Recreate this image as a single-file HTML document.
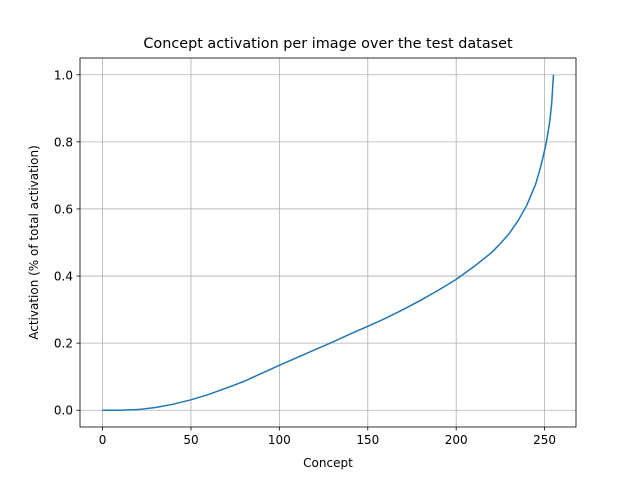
<!DOCTYPE html>
<html><head><meta charset="utf-8"><style>body{margin:0;background:#fff}svg{display:block;font-family:"DejaVu Sans","Liberation Sans",sans-serif}</style></head>
<body>
<svg width="640" height="480">
<rect width="640" height="480" fill="#fff"/>
<g id="grid"></g>
<g id="axes"></g>
<path id="line" fill="none" stroke="#1f77b4" stroke-width="1.5" stroke-linejoin="round"/>
<rect x="80" y="58" width="496" height="369" fill="none" stroke="#000" stroke-width="0.8"/>
<text x="328" y="48" text-anchor="middle" font-size="14.4">Concept activation per image over the test dataset</text>
<text x="328" y="467" text-anchor="middle" font-size="12">Concept</text>
<text transform="translate(38,242.5) rotate(-90)" text-anchor="middle" font-size="12">Activation (% of total activation)</text>
</svg>
<script>
const xs=[0,10,20,30,40,50,60,70,80,90,100,110,120,130,140,150,160,170,180,190,200,210,220,225,230,235,240,245,248,250,251,252,253,254,255];
const ys=[0,0,0.002,0.008,0.018,0.031,0.047,0.066,0.086,0.11,0.134,0.157,0.18,0.203,0.227,0.25,0.274,0.3,0.328,0.358,0.39,0.428,0.47,0.497,0.527,0.565,0.612,0.675,0.73,0.775,0.8,0.83,0.865,0.915,1.0];
const xTicks=[0,50,100,150,200,250];
const yTicks=[0.0,0.2,0.4,0.6,0.8,1.0];
const L=80,R=576,T=58,B=427;
const X=v=>L+(v+12.75)/280.5*(R-L);
const Y=v=>B-(v+0.05)/1.1*(B-T);
const ns="http://www.w3.org/2000/svg";
const grid=document.getElementById('grid'),axes=document.getElementById('axes');
function mk(tag,attrs,parent){const e=document.createElementNS(ns,tag);for(const k in attrs)e.setAttribute(k,attrs[k]);parent.appendChild(e);return e;}
xTicks.forEach(t=>{const x=X(t);
const g=mk('line',{x1:x,x2:x,y1:T,y2:B,stroke:'#b0b0b0','stroke-width':0.8},grid);


mk('line',{x1:x,x2:x,y1:B,y2:B+3.5,stroke:'#000','stroke-width':0.8},axes);
const tx=mk('text',{x:x,y:B+17,'text-anchor':'middle','font-size':12},axes);tx.textContent=t;

});
yTicks.forEach(t=>{const y=Y(t);
const g=mk('line',{x1:L,x2:R,y1:y,y2:y,stroke:'#b0b0b0','stroke-width':0.8},grid);


mk('line',{x1:L-3.5,x2:L,y1:y,y2:y,stroke:'#000','stroke-width':0.8},axes);
const tx=mk('text',{x:L-7,y:y+4.5,'text-anchor':'end','font-size':12},axes);tx.textContent=t.toFixed(1);

});
document.getElementById('line').setAttribute('d',xs.map((v,i)=>(i?'L':'M')+X(v).toFixed(2)+','+Y(ys[i]).toFixed(2)).join(''));
</script>
</body></html>
